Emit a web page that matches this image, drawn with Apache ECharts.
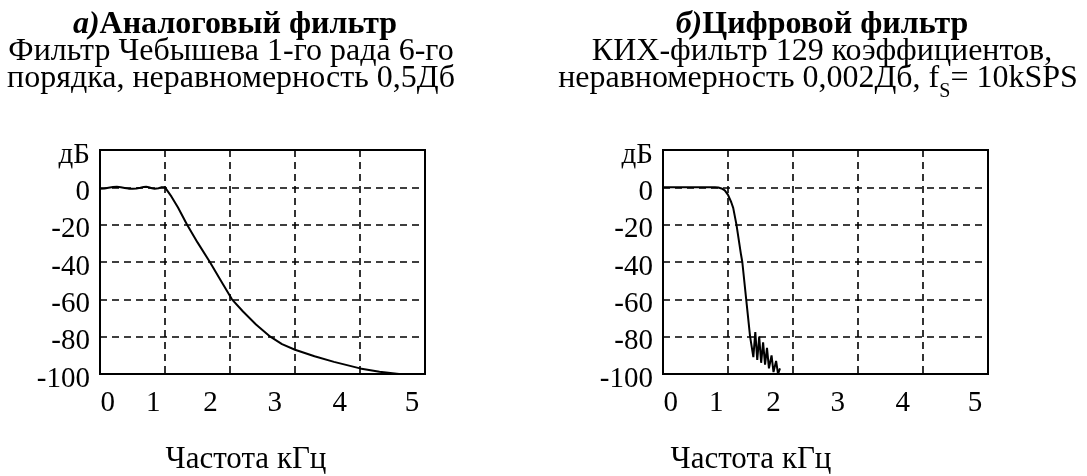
<!DOCTYPE html>
<html>
<head>
<meta charset="utf-8">
<script src="https://cdn.jsdelivr.net/npm/echarts@6/dist/echarts.min.js"></script>
<style>html,body{margin:0;padding:0;background:#fff}#c{width:1087px;height:476px}</style>
</head>
<body>
<div id="c"></div>
<script>
// ---- data ----
const xTickLabels = ['0', '1', '2', '3', '4', '5'];
const xTickLabelPos = [0.12, 0.82, 1.7, 2.69, 3.69, 4.8];
const yTicks = [20, 0, -20, -40, -60, -80, -100];
const yUnit = 'дБ';

const analogFreq = [0, 0.07, 0.13, 0.2, 0.26, 0.32, 0.38, 0.44, 0.5, 0.56, 0.62, 0.67, 0.71, 0.75, 0.8, 0.84, 0.87, 0.9, 0.94, 0.97, 1.0,
  1.02, 1.1, 1.2, 1.34, 1.5, 1.69, 1.86, 2.03, 2.2, 2.4, 2.62, 2.8, 3.0, 3.3, 3.6, 4.0, 4.3, 4.6];
const analogDb = [-0.8, -0.6, -0.2, 0.2, 0.3, 0.1, -0.3, -0.7, -0.8, -0.6, -0.2, 0.2, 0.3, 0.0, -0.5, -0.8, -0.8, -0.5, 0.0, 0.3, 0.0,
  -0.5, -5, -10.8, -20, -29.5, -40, -50, -60, -66.5, -73.5, -80, -84, -87, -90.5, -93.5, -97, -98.8, -100];

const digitalFreq = [0, 0.5, 0.8, 0.85, 0.9, 0.95, 1.0, 1.05, 1.08, 1.13, 1.2, 1.22, 1.28, 1.34, 1.39, 1.42, 1.45, 1.48, 1.51, 1.54, 1.57, 1.6, 1.63, 1.67, 1.7, 1.74, 1.77, 1.8];
const digitalDb = [0, 0, 0, -0.1, -0.6, -1.6, -4, -8, -11, -20, -36, -40, -60, -80, -91, -77.5, -92.5, -80, -94, -83, -95, -86, -97, -90, -99, -93, -100, -97];

const titleA = ['а)', 'Аналоговый фильтр'];
const subA1 = 'Фильтр Чебышева 1-го рада 6-го';
const subA2 = 'порядка, неравномерность 0,5Дб';
const titleB = ['б)', 'Цифровой фильтр'];
const subB1 = 'КИХ-фильтр 129 коэффициентов,';
const subB2 = ['неравномерность 0,002Дб, f', 'S', '= 10kSPS'];
const xName = 'Частота кГц';

// ---- chart ----
const FONT = '"Liberation Serif", "Times New Roman", serif';
const zip = (a, b) => a.map((v, i) => [v, b[i]]);
const chart = echarts.init(document.getElementById('c'), null, {renderer: 'canvas'});

function xAxis(gi) {
  return {
    gridIndex: gi, type: 'value', min: 0, max: 5, interval: 1,
    axisLine: {show: false}, axisTick: {show: false},
    splitLine: {show: true, showMinLine: false, showMaxLine: false,
      lineStyle: {color: '#000', width: 1.6, type: [7, 5]}},
    axisLabel: {
      customValues: xTickLabelPos, margin: 15,
      fontFamily: FONT, fontSize: 29, color: '#000',
      formatter: v => {
        let best = 0;
        xTickLabelPos.forEach((p, i) => { if (Math.abs(p - v) < Math.abs(xTickLabelPos[best] - v)) best = i; });
        return xTickLabels[best];
      }
    }
  };
}
function yAxis(gi) {
  return {
    gridIndex: gi, type: 'value', min: -100, max: 20, interval: 20,
    axisLine: {show: false}, axisTick: {show: false},
    splitLine: {show: true, showMinLine: false, showMaxLine: false,
      lineStyle: {color: '#000', width: 1.6, type: [7, 5]}},
    axisLabel: {
      margin: 10, fontFamily: FONT, fontSize: 29, color: '#000',
      verticalAlign: 'top', lineHeight: 10,
      formatter: v => v === yTicks[0] ? yUnit : String(v)
    }
  };
}
function txt(x, y, text, font, rich) {
  return {type: 'text', x: x, y: y, style: {text: text, font: font, fill: '#000', textAlign: 'center', textVerticalAlign: 'middle', rich: rich}};
}
const F = size => size + 'px ' + FONT;
const TS = 32;

chart.setOption({
  animation: false,
  grid: [
    {left: 100, top: 150, width: 325, height: 224, show: true, borderColor: '#000', borderWidth: 2, backgroundColor: 'transparent'},
    {left: 663, top: 150, width: 325, height: 224, show: true, borderColor: '#000', borderWidth: 2, backgroundColor: 'transparent'}
  ],
  xAxis: [xAxis(0), xAxis(1)],
  yAxis: [yAxis(0), yAxis(1)],
  series: [
    {type: 'line', xAxisIndex: 0, yAxisIndex: 0, data: zip(analogFreq, analogDb), showSymbol: false, smooth: false,
      lineStyle: {color: '#000', width: 2}, clip: true},
    {type: 'line', xAxisIndex: 1, yAxisIndex: 1, data: zip(digitalFreq, digitalDb), showSymbol: false, smooth: false,
      lineStyle: {color: '#000', width: 2}, clip: true}
  ],
  graphic: [
    txt(235, 25, '{i|' + titleA[0] + '}{b|' + titleA[1] + '}', F(TS), {
      i: {fontFamily: FONT, fontSize: TS, fontWeight: 'bold', fontStyle: 'italic'},
      b: {fontFamily: FONT, fontSize: TS, fontWeight: 'bold'}}),
    txt(231, 52, subA1, F(TS)),
    txt(231, 79, subA2, F(TS)),
    txt(822, 25, '{i|' + titleB[0] + '}{b|' + titleB[1] + '}', F(TS), {
      i: {fontFamily: FONT, fontSize: TS, fontWeight: 'bold', fontStyle: 'italic'},
      b: {fontFamily: FONT, fontSize: TS, fontWeight: 'bold'}}),
    txt(822, 52, subB1, F(TS)),
    txt(818, 79, '{n|' + subB2[0] + '}{s|' + subB2[1] + '}{n|' + subB2[2] + '}', F(TS), {
      n: {fontFamily: FONT, fontSize: TS, lineHeight: 34},
      s: {fontFamily: FONT, fontSize: 20, verticalAlign: 'bottom', lineHeight: 34, padding: [0, 0, -6, 0]}}),
    txt(246, 460, xName, F(31)),
    txt(751, 460, xName, F(31))
  ]
});
</script>
</body>
</html>
